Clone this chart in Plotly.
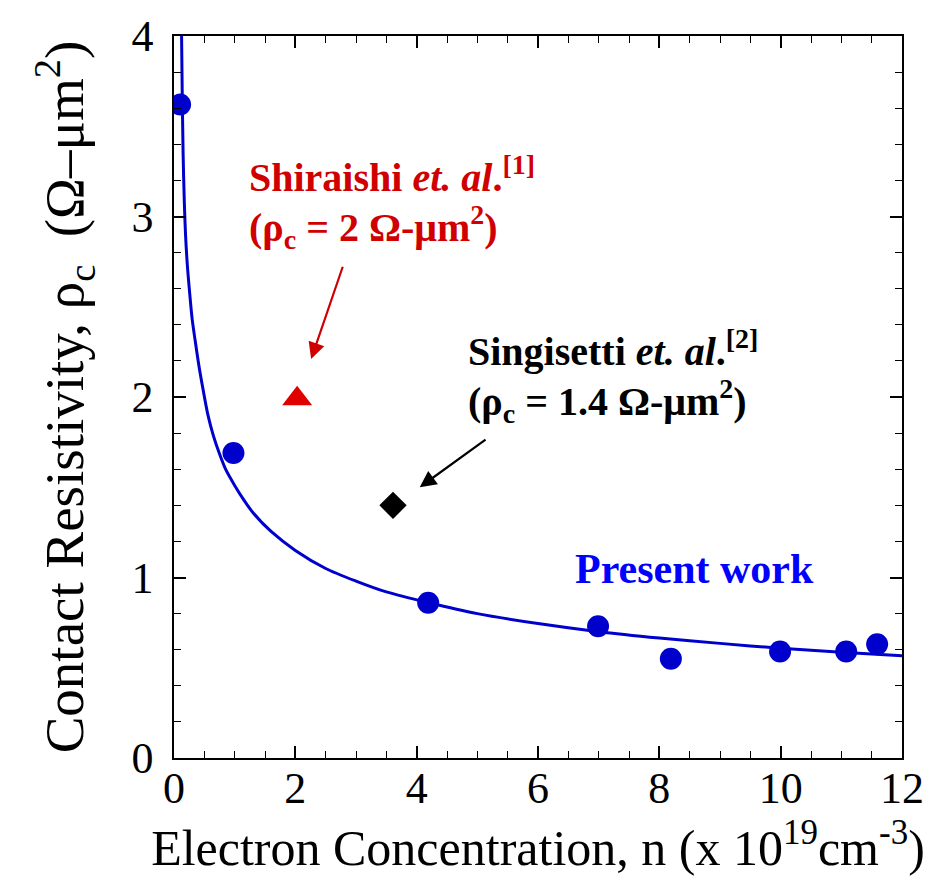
import plotly.graph_objects as go

# Measured data (Present work)
n_data = [0.1, 0.98, 4.19, 6.99, 8.19, 9.99, 11.08, 11.59]
rho_data = [3.62, 1.69, 0.86, 0.73, 0.55, 0.59, 0.59, 0.63]

# Fit curve
fit_n = [0.125, 0.135, 0.15, 0.17, 0.19, 0.22, 0.26, 0.30, 0.35, 0.41, 0.48, 0.56,
         0.65, 0.75, 0.85, 1.0, 1.15, 1.3, 1.6, 2.0, 2.5, 3.0, 3.5, 4.2, 5.0, 6.0,
         7.0, 8.0, 9.0, 10.0, 11.0, 12.0]
fit_rho = [4.0, 3.7, 3.35, 3.08, 2.9, 2.73, 2.57, 2.43, 2.31, 2.175, 2.04, 1.90,
           1.785, 1.685, 1.60, 1.51, 1.43, 1.36, 1.255, 1.15, 1.05, 0.98, 0.92, 0.86,
           0.80, 0.745, 0.70, 0.665, 0.635, 0.608, 0.586, 0.567]

# Literature points
shiraishi_n = [2.03]
shiraishi_rho = [1.99]
singisetti_n = [3.61]
singisetti_rho = [1.40]

x_ticks = [0, 2, 4, 6, 8, 10, 12]
y_ticks = [0, 1, 2, 3, 4]

FONT = "Times New Roman, Liberation Serif, serif"
BLUE = "#0000CC"
RED = "#D00000"

fig = go.Figure()
fig.add_trace(go.Scatter(x=fit_n, y=fit_rho, mode="lines",
                         line=dict(color=BLUE, width=3, shape="spline", smoothing=0.8),
                         showlegend=False, hoverinfo="skip"))
fig.add_trace(go.Scatter(x=n_data, y=rho_data, mode="markers",
                         marker=dict(color=BLUE, size=22, line=dict(width=0)),
                         showlegend=False))
fig.add_trace(go.Scatter(x=shiraishi_n, y=shiraishi_rho, mode="markers",
                         marker=dict(color="#E00000", size=26, symbol="triangle-up",
                                     line=dict(width=0)),
                         showlegend=False))
fig.add_trace(go.Scatter(x=singisetti_n, y=singisetti_rho, mode="markers",
                         marker=dict(color="black", size=21, symbol="diamond",
                                     line=dict(width=0)),
                         showlegend=False))

# Text annotations (one per line)
def label(x, y, text, color, size=40):
    fig.add_annotation(x=x, y=y, xref="x", yref="y", xanchor="left", yanchor="middle",
                       align="left", showarrow=False, text=text,
                       font=dict(family=FONT, size=size, color=color))

label(1.20, 3.23, "<b>Shiraishi <i>et. al</i>.<sup>[1]</sup></b>", RED)
label(1.20, 2.94, "<b>(ρ<sub>c</sub> = 2 Ω-μm<sup>2</sup>)</b>", RED)
label(4.81, 2.27, "<b>Singisetti <i>et. al</i>.<sup>[2]</sup></b>", "black")
label(4.81, 1.98, "<b>(ρ<sub>c</sub> = 1.4 Ω-μm<sup>2</sup>)</b>", "black")
label(6.58, 1.045, "<b>Present work</b>", "#0000FF", size=42)

# Arrows
fig.add_annotation(x=2.26, y=2.21, ax=2.79, ay=2.73, xref="x", yref="y",
                   axref="x", ayref="y", text="", showarrow=True,
                   arrowhead=2, arrowsize=1.5, arrowwidth=2.2, arrowcolor=RED)
fig.add_annotation(x=4.05, y=1.50, ax=5.16, ay=1.77, xref="x", yref="y",
                   axref="x", ayref="y", text="", showarrow=True,
                   arrowhead=2, arrowsize=1.5, arrowwidth=2.2, arrowcolor="black")

axis_common = dict(showgrid=False, zeroline=False, showline=True, linecolor="black",
                   linewidth=1.5, mirror="ticks", ticks="inside", ticklen=12,
                   tickwidth=1.5, tickcolor="black",
                   tickfont=dict(family=FONT, size=44, color="black"))

fig.update_xaxes(range=[0, 12], tickvals=x_ticks, ticktext=[str(v) for v in x_ticks],
                 minor=dict(ticks="inside", dtick=0.5, ticklen=7, tickcolor="black", tickwidth=1.2),
                 title=dict(text="Electron Concentration, n (x 10<sup>19</sup>cm<sup>-3</sup>)",
                            font=dict(family=FONT, size=50, color="black"), standoff=18),
                 ticklabelstandoff=-10,
                 **axis_common)
fig.update_yaxes(range=[0, 4], tickvals=y_ticks, ticktext=[str(v) for v in y_ticks],
                 minor=dict(ticks="inside", dtick=0.2, ticklen=7, tickcolor="black", tickwidth=1.2),
                 title=dict(text="Contact Resistivity, ρ<sub>c</sub>  (Ω–μm<sup>2</sup>)",
                            font=dict(family=FONT, size=55, color="black"), standoff=30),
                 ticklabelstandoff=10,
                 **axis_common)

fig.update_layout(width=941, height=885, margin=dict(l=174, r=39, t=31, b=127),
                  plot_bgcolor="white", paper_bgcolor="white", showlegend=False)

fig.write_html("out.html")
